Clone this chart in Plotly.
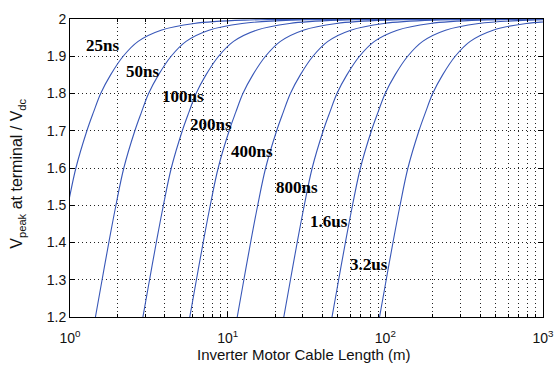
import math
import plotly.graph_objects as go

# ---- data ----
rise_times = ["25ns", "50ns", "100ns", "200ns", "400ns", "800ns", "1.6us", "3.2us"]
v_levels = [1.1, 1.2, 1.3, 1.4, 1.5, 1.6, 1.7, 1.75, 1.8, 1.85, 1.9, 1.94, 1.97, 1.988, 1.997, 1.9995]

len_25ns = [0.657, 0.72, 0.793, 0.876, 0.971, 1.09, 1.28, 1.41, 1.565, 1.809, 2.174, 2.706, 3.779, 6.128, 12.8, 45.4]
len_50ns = [1.322, 1.45, 1.598, 1.763, 1.956, 2.195, 2.578, 2.841, 3.151, 3.642, 4.379, 5.449, 7.61, 12.34, 25.78, 91.5]
len_100ns = [2.645, 2.90, 3.196, 3.526, 3.912, 4.391, 5.156, 5.681, 6.302, 7.285, 8.758, 10.9, 15.22, 24.68, 51.56, 183]
len_200ns = [5.244, 5.75, 6.337, 6.992, 7.757, 8.706, 10.22, 11.26, 12.49, 14.44, 17.37, 21.61, 30.18, 48.94, 102.2, 363]
len_400ns = [10.49, 11.5, 12.67, 13.98, 15.51, 17.41, 20.45, 22.53, 24.99, 28.89, 34.73, 43.22, 60.35, 97.88, 204.5, 726]
len_800ns = [20.7, 22.7, 25.02, 27.6, 30.62, 34.37, 40.36, 44.47, 49.33, 57.02, 68.55, 85.31, 119.1, 193.2, 403.6, 1432]
len_1600ns = [41.86, 45.9, 50.58, 55.81, 61.92, 69.49, 81.61, 89.92, 99.74, 115.3, 138.6, 172.5, 240.9, 390.7, 816.1, 2896]
len_3200ns = [83.81, 91.9, 101.3, 111.8, 124.0, 139.1, 163.4, 180.0, 199.7, 230.9, 277.5, 345.4, 482.3, 782.2, 1634, 5799]

label_len = [1.61, 2.87, 5.18, 7.87, 14.2, 27.7, 43.8, 78.4]
label_v = [1.930, 1.859, 1.792, 1.718, 1.644, 1.549, 1.457, 1.340]

y_ticks = [1.2, 1.3, 1.4, 1.5, 1.6, 1.7, 1.8, 1.9, 2.0]
y_ticktext = ["1.2", "1.3", "1.4", "1.5", "1.6", "1.7", "1.8", "1.9", "2"]
x_major = [1, 10, 100, 1000]
x_major_text = ["10<sup>0</sup>", "10<sup>1</sup>", "10<sup>2</sup>", "10<sup>3</sup>"]
x_minor = [m * d for d in (1, 10, 100) for m in range(2, 10)]

x_title = "Inverter Motor Cable Length (m)"
y_title = "V<sub>peak</sub> at terminal / V<sub>dc</sub>"

curves = [len_25ns, len_50ns, len_100ns, len_200ns, len_400ns, len_800ns, len_1600ns, len_3200ns]

LINE = "#3857b8"
GRID = "#222222"
W, H = 554, 365
ML, MR, MT, MB = 70, 11, 19, 47.5

fig = go.Figure()
for name, lens in zip(rise_times, curves):
    fig.add_trace(go.Scatter(
        x=lens, y=v_levels, mode="lines", name=name,
        line=dict(color=LINE, width=1.1, shape="spline", smoothing=1.0),
        showlegend=False, hoverinfo="skip",
    ))

for name, L, v in zip(rise_times, label_len, label_v):
    fig.add_annotation(
        x=math.log10(L), y=v, xref="x", yref="y", text=name, showarrow=False,
        font=dict(family="Liberation Serif", size=17, color="black", weight="bold"),
    )

pw, ph = W - ML - MR, H - MT - MB
# axis titles placed in the margins
fig.add_annotation(
    text=x_title, xref="paper", yref="paper", xanchor="center", yanchor="middle",
    x=(303 - ML) / pw, y=-(355 - (H - MB)) / ph, showarrow=False,
    font=dict(family="Liberation Sans", size=15, color="#111111"),
)
fig.add_annotation(
    text=y_title, xref="paper", yref="paper", textangle=-90,
    xanchor="center", yanchor="middle",
    x=-(ML - 18) / pw, y=((H - MB) - 174) / ph, showarrow=False,
    font=dict(family="Liberation Sans", size=16, color="#111111"),
)

axis_font = dict(family="Liberation Sans", size=14, color="#111111")

fig.update_layout(
    width=W, height=H,
    margin=dict(l=ML, r=MR, t=MT, b=MB, autoexpand=False),
    paper_bgcolor="white", plot_bgcolor="white",
    font=dict(family="Liberation Sans", color="#111111"),
    xaxis=dict(
        type="log", range=[0, 3], automargin=False,
        tickmode="array", tickvals=x_major, ticktext=x_major_text,
        tickfont=axis_font, ticklabeloverflow="allow", ticklabelstandoff=8,
        ticks="inside", ticklen=5, tickcolor="black",
        showline=True, linecolor="black", linewidth=1, mirror="allticks",
        showgrid=True, gridcolor=GRID, griddash="1px,3px", gridwidth=1,
        zeroline=False,
        minor=dict(tickmode="array", tickvals=x_minor, ticks="inside", ticklen=3,
                   tickcolor="black", showgrid=True, gridcolor=GRID,
                   griddash="1px,3px", gridwidth=1),
    ),
    yaxis=dict(
        range=[1.2, 2.0], automargin=False,
        tickmode="array", tickvals=y_ticks, ticktext=y_ticktext,
        tickfont=axis_font,
        ticks="inside", ticklen=5, tickcolor="black",
        showline=True, linecolor="black", linewidth=1, mirror="allticks",
        showgrid=True, gridcolor=GRID, griddash="1px,3px", gridwidth=1,
        zeroline=False,
    ),
)

fig.write_html("out.html")
